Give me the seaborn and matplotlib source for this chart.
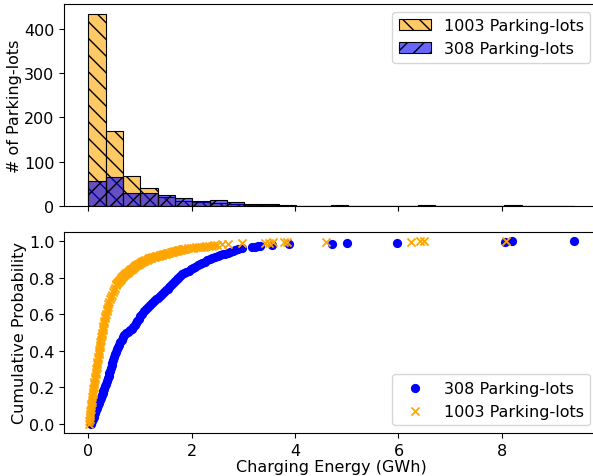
import numpy as np
import pandas as pd
import matplotlib
matplotlib.use("Agg")
import matplotlib.pyplot as plt
import seaborn as sns

# --- histogram (top panel): counts per bin, 28 equal bins from 0 to 9.39 GWh ---
bin_lo, bin_hi, n_bins = 0.0, 9.39, 28
counts_1003 = [434, 170, 68, 41, 20, 12, 8, 6, 5, 3, 2, 3, 0, 1,
               0, 0, 0, 0, 1, 2, 0, 0, 0, 0, 1, 0, 0, 0]
counts_308 = [57, 66, 30, 30, 24, 17, 11, 13, 8, 5, 4, 1, 0, 0,
              2, 0, 0, 1, 0, 0, 0, 0, 0, 0, 2, 0, 0, 1]

# --- cumulative distribution (bottom panel) ---
energy_308 = [0.050, 0.068, 0.085, 0.103,
              0.120, 0.137, 0.153, 0.170, 0.187, 0.203,
              0.220, 0.239, 0.257, 0.276, 0.294, 0.313, 0.331,
              0.350, 0.364, 0.379, 0.393, 0.407, 0.421, 0.436,
              0.450, 0.466, 0.482, 0.498, 0.514,
              0.530, 0.553, 0.576, 0.599, 0.621, 0.644, 0.667,
              0.690, 0.730, 0.770, 0.810,
              0.850, 0.875, 0.900, 0.925,
              0.950, 0.980, 1.010, 1.040,
              1.070, 1.110, 1.150, 1.190, 1.230,
              1.270, 1.308, 1.347, 1.385, 1.423, 1.462,
              1.500, 1.535, 1.570, 1.605, 1.640, 1.675, 1.710, 1.745,
              1.780, 1.820, 1.860, 1.900, 1.940,
              1.980, 2.026, 2.071, 2.117, 2.163, 2.209, 2.254,
              2.300, 2.350, 2.400, 2.450, 2.500,
              2.550, 2.598, 2.647, 2.695, 2.743, 2.792,
              2.840, 2.900, 2.970,
              3.17, 3.22, 3.28, 3.33, 3.55, 3.89, 4.72, 5.00, 5.97, 8.07, 8.19, 9.39]
prob_308 = [0.003, 0.015, 0.027, 0.038,
            0.050, 0.063, 0.077, 0.090, 0.103, 0.117,
            0.130, 0.143, 0.156, 0.169, 0.181, 0.194, 0.207,
            0.220, 0.234, 0.249, 0.263, 0.277, 0.291, 0.306,
            0.320, 0.335, 0.350, 0.365, 0.380,
            0.395, 0.408, 0.421, 0.434, 0.447, 0.460, 0.473,
            0.486, 0.495, 0.503, 0.512,
            0.520, 0.530, 0.540, 0.550,
            0.560, 0.574, 0.588, 0.601,
            0.615, 0.626, 0.637, 0.648, 0.659,
            0.670, 0.680, 0.690, 0.700, 0.710, 0.720,
            0.730, 0.740, 0.750, 0.760, 0.770, 0.780, 0.790, 0.800,
            0.810, 0.817, 0.824, 0.831, 0.838,
            0.845, 0.852, 0.859, 0.866, 0.872, 0.879, 0.886,
            0.893, 0.899, 0.905, 0.910, 0.916,
            0.922, 0.927, 0.931, 0.936, 0.940, 0.945,
            0.949, 0.955, 0.961,
            0.964, 0.967, 0.971, 0.974, 0.977, 0.981, 0.984, 0.987, 0.990, 0.994, 0.997, 1.000]

energy_1003 = [0.013, 0.019, 0.025, 0.031, 0.037, 0.043, 0.049, 0.055, 0.060,
               0.065, 0.072, 0.079, 0.086, 0.093, 0.100, 0.107, 0.113, 0.120, 0.127, 0.134, 0.141, 0.148,
               0.155, 0.162, 0.170, 0.177, 0.184, 0.192, 0.199, 0.207, 0.214, 0.221, 0.229, 0.236, 0.243, 0.251,
               0.258, 0.267, 0.276, 0.285, 0.293, 0.302, 0.311,
               0.320, 0.331, 0.343, 0.354, 0.366, 0.377, 0.389,
               0.400, 0.419, 0.437, 0.456, 0.474, 0.493, 0.511,
               0.530, 0.546, 0.562, 0.578, 0.594, 0.610, 0.626, 0.642, 0.658, 0.674,
               0.690, 0.709, 0.728, 0.746, 0.765, 0.784, 0.803, 0.821, 0.840, 0.859, 0.878, 0.896,
               0.915, 0.936, 0.958, 0.979, 1.000, 1.021, 1.043, 1.064, 1.085, 1.106, 1.128, 1.149,
               1.170, 1.194, 1.217, 1.240, 1.264, 1.288, 1.311, 1.335, 1.359, 1.382, 1.406, 1.430, 1.453, 1.476,
               1.500, 1.524, 1.548, 1.571, 1.595, 1.619, 1.643, 1.666, 1.690, 1.714, 1.738, 1.761, 1.785, 1.809,
               1.833, 1.856,
               1.880, 1.931, 1.982, 2.033, 2.083, 2.134, 2.185, 2.236, 2.287, 2.338, 2.389, 2.440, 2.490,
               2.59, 2.71, 2.97, 3.42, 3.49, 3.57, 3.78, 3.85, 4.60, 6.24, 6.42, 6.50, 8.08]
prob_1003 = [0.001, 0.014, 0.028, 0.042, 0.056, 0.070, 0.084, 0.098, 0.110,
             0.120, 0.134, 0.148, 0.162, 0.175, 0.189, 0.203, 0.217, 0.231, 0.245, 0.258, 0.272, 0.286,
             0.300, 0.313, 0.327, 0.340, 0.353, 0.366, 0.380, 0.393, 0.406, 0.420, 0.433, 0.446, 0.460, 0.473,
             0.486, 0.499, 0.512, 0.525, 0.538, 0.551, 0.564,
             0.577, 0.590, 0.603, 0.616, 0.628, 0.641, 0.654,
             0.667, 0.680, 0.693, 0.706, 0.719, 0.732, 0.745,
             0.758, 0.764, 0.769, 0.775, 0.780, 0.786, 0.791, 0.797, 0.802, 0.808,
             0.813, 0.818, 0.822, 0.827, 0.831, 0.836, 0.840, 0.845, 0.849, 0.854, 0.858, 0.863,
             0.867, 0.870, 0.873, 0.876, 0.879, 0.882, 0.886, 0.889, 0.892, 0.895, 0.898, 0.901,
             0.904, 0.906, 0.908, 0.910, 0.912, 0.914, 0.916, 0.918, 0.919, 0.921, 0.923, 0.925, 0.927, 0.929,
             0.931, 0.933, 0.934, 0.936, 0.938, 0.940, 0.941, 0.943, 0.945, 0.946, 0.948, 0.950, 0.951, 0.953,
             0.955, 0.956,
             0.958, 0.960, 0.961, 0.963, 0.964, 0.966, 0.968, 0.969, 0.971, 0.972, 0.974, 0.976, 0.977,
             0.981, 0.984, 0.987, 0.990, 0.991, 0.992, 0.993, 0.994, 0.995, 0.996, 0.997, 0.998, 1.000]

plt.rcParams["font.size"] = 11.5

edges = np.linspace(bin_lo, bin_hi, n_bins + 1)
centers = (edges[:-1] + edges[1:]) / 2
hist_df = pd.DataFrame({"energy": centers, "n1003": counts_1003, "n308": counts_308})

fig = plt.figure(figsize=(5.93, 4.77), dpi=100)
ax1 = fig.add_axes([0.1079, 0.566, 0.9005, 0.4235])
ax2 = fig.add_axes([0.1079, 0.0901, 0.9005, 0.422], sharex=ax1)

# --- top: histograms ---
sns.histplot(data=hist_df, x="energy", weights="n1003", bins=list(edges), color="orange",
             alpha=0.6, hatch="\\\\", edgecolor="black", linewidth=0.8,
             label="1003 Parking-lots", ax=ax1)
sns.histplot(data=hist_df, x="energy", weights="n308", bins=list(edges), color="blue",
             alpha=0.6, hatch="//", edgecolor="black", linewidth=0.8,
             label="308 Parking-lots", ax=ax1)
ax1.set_ylabel("# of Parking-lots", labelpad=1)
ax1.set_xlabel("")
ax1.tick_params(labelbottom=False)
ax1.legend(loc="upper right")

# --- bottom: cumulative probability ---
sns.scatterplot(x=energy_308, y=prob_308, color="blue", marker="o", s=44,
                linewidth=0, label="308 Parking-lots", ax=ax2)
sns.scatterplot(x=energy_1003, y=prob_1003, color="orange", marker="x", s=34,
                linewidth=1.3, label="1003 Parking-lots", ax=ax2)
ax2.set_xlabel("Charging Energy (GWh)", labelpad=1)
ax2.set_ylabel("Cumulative Probability", labelpad=1)
ax2.set_xticks([0, 2, 4, 6, 8])
ax2.legend(loc="lower right")

fig.savefig("out.png", dpi=100)
